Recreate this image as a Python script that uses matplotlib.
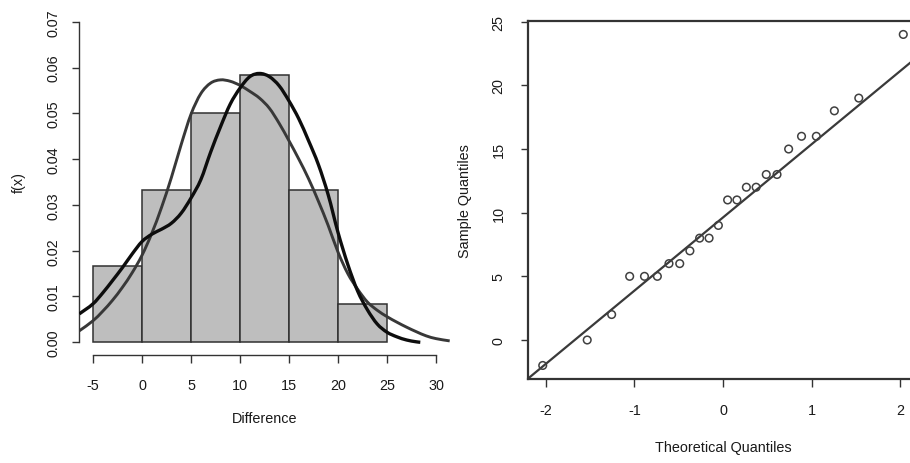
import numpy as np
import matplotlib
matplotlib.use("Agg")
import matplotlib.pyplot as plt
from matplotlib.path import Path
from matplotlib.patches import PathPatch
from statistics import NormalDist

plt.rcParams["font.family"] = ["Liberation Sans", "DejaVu Sans"]

# Observed differences (n = 24)
sample = [-2, 0, 2, 5, 5, 5, 6, 6, 7, 8, 8, 9, 11, 11, 12, 12,
          13, 13, 15, 16, 16, 18, 19, 24]
bin_edges = [-5, 0, 5, 10, 15, 20, 25]

# Density curves overlaid on the histogram
curve_a_x = [-6.4, -5, -4, -3, -2, -1, 0, 1, 2, 3, 4, 5, 6, 7, 8, 9, 10, 11,
             12, 13, 14, 15, 16, 17, 18, 19, 20, 21, 22, 23, 24, 25, 26, 27,
             28, 28.4]
curve_a_y = [0.0062, 0.0084, 0.0108, 0.0135, 0.0163, 0.0193, 0.0220, 0.0236,
             0.0247, 0.0260, 0.0282, 0.0315, 0.0355, 0.0415, 0.0470, 0.0520,
             0.0555, 0.0580, 0.0587, 0.0580, 0.0560, 0.0527, 0.0488, 0.0440,
             0.0388, 0.0322, 0.0240, 0.0170, 0.0112, 0.0071, 0.0040, 0.0022,
             0.0012, 0.0005, 0.0001, 0.0]

curve_b_x = [-6.4, -5, -4, -3, -2, -1, 0, 1, 2, 3, 4, 5, 6, 7, 8, 9, 10, 11,
             12, 13, 14, 15, 16, 17, 18, 19, 20, 21, 22, 23, 24, 25, 26, 27,
             28, 29, 30, 31.4]
curve_b_y = [0.0025, 0.0047, 0.0068, 0.0092, 0.0120, 0.0152, 0.0190, 0.0238,
             0.0295, 0.0360, 0.0432, 0.0498, 0.0543, 0.0566, 0.0573, 0.0570,
             0.0561, 0.0548, 0.0533, 0.0511, 0.0478, 0.0440, 0.0400, 0.0357,
             0.0308, 0.0255, 0.0197, 0.0150, 0.0116, 0.0088, 0.0070, 0.0056,
             0.0044, 0.0033, 0.0023, 0.0014, 0.0008, 0.0003]

hist_xticks = [-5, 0, 5, 10, 15, 20, 25, 30]
hist_yticks = [0.00, 0.01, 0.02, 0.03, 0.04, 0.05, 0.06, 0.07]
qq_xticks = [-2, -1, 0, 1, 2]
qq_yticks = [0, 5, 10, 15, 20, 25]

TXT = "#1a1a1a"
AX = "#333333"
FS = 10.4

fig = plt.figure(figsize=(9.10, 4.64), dpi=100)
W, H = 910, 464


def px_axes(x0, y0, x1, y1):
    return fig.add_axes([x0 / W, 1 - y1 / H, (x1 - x0) / W, (y1 - y0) / H])


def r_style(ax):
    ax.tick_params(direction="out", length=5.4, width=1.0, colors=AX,
                   labelcolor=TXT, labelsize=FS)
    for s in ax.spines.values():
        s.set_color(AX)
        s.set_linewidth(1.0)


def smooth_path(xs, ys):
    """Cubic Bezier path through every (x, y) knot with Hermite tangents."""
    xs = np.asarray(xs, float)
    ys = np.asarray(ys, float)
    k = len(xs)
    m = np.empty(k)
    m[0] = (ys[1] - ys[0]) / (xs[1] - xs[0])
    m[-1] = (ys[-1] - ys[-2]) / (xs[-1] - xs[-2])
    m[1:-1] = (ys[2:] - ys[:-2]) / (xs[2:] - xs[:-2])
    verts = [(xs[0], ys[0])]
    codes = [Path.MOVETO]
    for i in range(k - 1):
        h = xs[i + 1] - xs[i]
        verts += [(xs[i] + h / 3, ys[i] + m[i] * h / 3),
                  (xs[i + 1] - h / 3, ys[i + 1] - m[i + 1] * h / 3),
                  (xs[i + 1], ys[i + 1])]
        codes += [Path.CURVE4] * 3
    return Path(verts, codes)


# ---- Left: histogram with density curves ----
ax1 = px_axes(79.3, 9.9, 449.7, 356.1)
r_style(ax1)
sample_arr = np.array(sample)
n = len(sample_arr)
lefts, dens = [], []
for lo, hi in zip(bin_edges[:-1], bin_edges[1:]):
    if lo == bin_edges[0]:
        cnt = np.sum((sample_arr >= lo) & (sample_arr <= hi))
    else:
        cnt = np.sum((sample_arr > lo) & (sample_arr <= hi))
    lefts.append(lo)
    dens.append(cnt / (n * (hi - lo)))
ax1.bar(lefts, dens, width=5, align="edge", color="#bebebe",
        edgecolor="#303030", linewidth=1.1, zorder=1)
ax1.add_patch(PathPatch(smooth_path(curve_b_x, curve_b_y), fill=False,
                        edgecolor="#383838", lw=2.1, zorder=2,
                        capstyle="butt", clip_on=True))
ax1.add_patch(PathPatch(smooth_path(curve_a_x, curve_a_y), fill=False,
                        edgecolor="#0d0d0d", lw=2.4, zorder=3,
                        capstyle="butt", clip_on=True))

ax1.set_xlim(-6.4, 31.4)
ax1.set_ylim(-0.0028, 0.0728)
ax1.spines["top"].set_visible(False)
ax1.spines["right"].set_visible(False)
ax1.spines["left"].set_bounds(0, 0.07)
ax1.spines["bottom"].set_bounds(-5, 30)
ax1.set_xticks(hist_xticks)
ax1.set_xticklabels([str(v) for v in hist_xticks])
ax1.set_yticks(hist_yticks)
ax1.set_yticklabels([f"{v:.2f}" for v in hist_yticks], rotation=90,
                    va="center")
ax1.tick_params(axis="x", pad=11)
ax1.tick_params(axis="y", pad=8)
ax1.set_xlabel("Difference", fontsize=FS, color=TXT, labelpad=14)
ax1.set_ylabel("f(x)", fontsize=FS, color=TXT, labelpad=15)

# ---- Right: normal Q-Q plot ----
ax2 = px_axes(528.3, 22.2, 917.7, 379.7)
r_style(ax2)
sorted_sample = np.sort(sample_arr)
nd = NormalDist()
theo = np.array([nd.inv_cdf((i + 1 - 0.5) / n) for i in range(n)])
ax2.scatter(theo, sorted_sample, s=30, facecolors="none",
            edgecolors="#404040", linewidths=1.1, zorder=3)

q1, q3 = np.quantile(sorted_sample, [0.25, 0.75])
z1, z3 = nd.inv_cdf(0.25), nd.inv_cdf(0.75)
slope = (q3 - q1) / (z3 - z1)
intercept = q1 - slope * z1
ax2.axline((0, intercept), slope=slope, color="#3a3a3a", lw=1.6, zorder=2)

pad_x = 0.04 * (theo.max() - theo.min())
pad_y = 0.04 * (sorted_sample.max() - sorted_sample.min())
ax2.set_xlim(theo.min() - pad_x, theo.max() + pad_x)
ax2.set_ylim(sorted_sample.min() - pad_y, sorted_sample.max() + pad_y)
for s in ax2.spines.values():
    s.set_linewidth(1.6)
ax2.set_xticks(qq_xticks)
ax2.set_xticklabels([str(v) for v in qq_xticks])
ax2.set_yticks(qq_yticks)
ax2.set_yticklabels([str(v) for v in qq_yticks], rotation=90, va="center")
ax2.tick_params(axis="x", pad=12)
ax2.tick_params(axis="y", pad=11)
ax2.set_xlabel("Theoretical Quantiles", fontsize=FS, color=TXT, labelpad=17)
ax2.set_ylabel("Sample Quantiles", fontsize=FS, color=TXT, labelpad=14)

fig.savefig("out.png", dpi=100)
